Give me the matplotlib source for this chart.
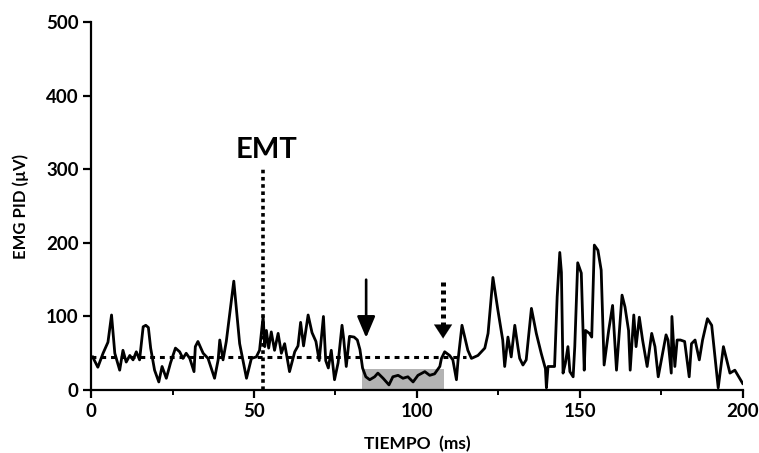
import matplotlib
matplotlib.use("Agg")
import matplotlib.pyplot as plt

plt.rcParams['font.family'] = ['Lato', 'DejaVu Sans']

# ---- data ----
t_ms = [0.5, 2.1, 3.7, 5.2, 6.3, 7.3, 8.8, 9.8, 10.8, 11.9, 12.9, 13.9, 14.9,
        16.0, 16.8, 17.6, 18.3, 19.5, 20.8, 21.8, 23.1, 24.4, 25.9, 27.2, 28.2,
        29.2, 30.3, 31.6, 32.0, 32.8, 34.4, 35.9, 37.9, 39.0, 39.5, 40.5, 41.5,
        43.8, 45.6, 47.7, 49.2, 50.7, 51.7, 52.8, 53.3, 53.8, 54.5, 55.3, 56.3,
        57.4, 58.4, 59.4, 60.9, 62.5, 63.5, 64.3, 65.2, 66.6, 67.8, 69.0, 70.0,
        71.3, 72.0, 72.8, 73.7, 74.7, 75.8, 77.0, 77.5, 78.3, 79.3, 80.7, 81.7,
        82.5, 83.3, 84.3, 85.5, 87.0, 88.0, 89.6, 91.4, 92.6, 94.2, 95.7, 97.2,
        98.8, 100.3, 102.4, 103.9, 105.4, 107.0, 107.5, 108.5, 110.0, 111.0,
        112.1, 112.6, 113.8, 115.6, 116.7, 118.7, 120.8, 121.8, 123.3, 124.8,
        126.3, 126.9, 127.9, 128.9, 130.0, 131.0, 131.5, 132.5, 133.5, 135.1,
        136.6, 138.1, 139.4, 139.7, 140.2, 142.2, 143.0, 143.8, 144.3, 144.8,
        145.5, 146.3, 146.9, 147.9, 148.4, 149.3, 150.4, 151.3, 151.7, 152.9,
        153.6, 154.4, 155.5, 156.5, 157.4, 158.8, 160.0, 161.2, 162.9, 163.8,
        164.9, 165.4, 166.5, 167.2, 168.2, 169.2, 170.6, 172.0, 173.0, 174.0,
        176.4, 177.0, 178.0, 178.2, 179.1, 179.8, 180.8, 182.1, 183.5, 184.2,
        185.3, 186.6, 187.6, 189.1, 190.4, 192.4, 194.0, 196.0, 197.5, 199.9]
emg_uv = [45, 31, 50, 65, 102, 50, 27, 54, 38, 47, 41, 52, 41,
          86, 88, 85, 57, 27, 11, 32, 16, 37, 57, 52, 43,
          50, 43, 25, 59, 66, 50, 43, 16, 41, 68, 41, 66,
          148, 63, 16, 43, 45, 54, 100, 59, 81, 57, 79, 54,
          77, 50, 63, 25, 52, 60, 92, 60, 102, 78, 66, 40,
          100, 40, 30, 54, 14, 37, 88, 70, 32, 73, 72, 68,
          55, 30, 18, 14, 18, 23, 16, 7, 18, 20, 16, 18,
          11, 20, 25, 20, 22, 32, 43, 52, 47, 41,
          14, 41, 88, 54, 43, 47, 57, 77, 153, 109,
          68, 32, 72, 45, 88, 57, 43, 34, 41, 111,
          77, 50, 29, 3, 32, 32, 127, 187, 160, 23,
          36, 59, 25, 18, 59, 173, 159, 27, 81, 77,
          72, 197, 190, 163, 34, 81, 115, 27, 129, 113,
          81, 27, 102, 59, 99, 68, 32, 77, 59, 18,
          75, 68, 23, 100, 32, 68, 68, 66, 18, 63,
          68, 41, 68, 97, 88, 3, 59, 23, 27, 9]

baseline_uv = 45
baseline_end_ms = 115
emt_ms = 52.8
emt_top_uv = 300
silent_start_ms, silent_end_ms, silent_top_uv = 83, 108.3, 28
arrow_solid = (84.4, 150, 71)     # x, from y, to y
arrow_dotted = (108.0, 147, 70)
x_ticks = [0, 50, 100, 150, 200]
y_ticks = [0, 100, 200, 300, 400, 500]

fig = plt.figure(figsize=(7.59, 4.53), dpi=100)
ax = fig.add_axes([0.1199, 0.139, 0.859, 0.812])

# silent period shading
ax.fill_between([silent_start_ms, silent_end_ms], 0, silent_top_uv,
                color='#b3b3b3', lw=0, zorder=1)

# baseline
ax.plot([0, baseline_end_ms], [baseline_uv, baseline_uv], color='black',
        lw=2.2, linestyle=(0, (1.6, 1.6)), zorder=2)

# EMT line
ax.plot([emt_ms, emt_ms], [0, emt_top_uv], color='black', lw=2.6,
        linestyle=(0, (1.0, 1.0)), zorder=2)
ax.text(emt_ms + 1, 308, 'EMT', ha='center', va='bottom', fontsize=21,
        fontweight='bold')

# trace
ax.plot(t_ms, emg_uv, color='black', lw=2.0, zorder=3,
        solid_joinstyle='round')

# solid arrow
ax.annotate('', xy=(arrow_solid[0], arrow_solid[2]),
            xytext=(arrow_solid[0], arrow_solid[1]),
            arrowprops=dict(arrowstyle='-|>,head_length=1.3,head_width=0.55',
                            lw=1.9, color='black', shrinkA=0, shrinkB=0))
# dotted arrow: dotted shaft + head
ax.plot([arrow_dotted[0], arrow_dotted[0]], [arrow_dotted[1], arrow_dotted[2] + 16],
        color='black', lw=3.6, linestyle=(0, (0.8, 0.8)))
ax.annotate('', xy=(arrow_dotted[0], arrow_dotted[2]),
            xytext=(arrow_dotted[0], arrow_dotted[2] + 20),
            arrowprops=dict(arrowstyle='-|>,head_length=1.0,head_width=0.65',
                            lw=0.1, color='black', shrinkA=0, shrinkB=0))

ax.set_xlim(0, 200)
ax.set_ylim(0, 500)
ax.set_xticks(x_ticks)
ax.set_xticks([25, 75, 125, 175], minor=True)
ax.set_yticks(y_ticks)
for s in ['top', 'right']:
    ax.spines[s].set_visible(False)
for s in ['left', 'bottom']:
    ax.spines[s].set_linewidth(1.6)
ax.tick_params(axis='both', which='major', length=6, width=1.6,
               labelsize=13.5, pad=3)
ax.tick_params(axis='x', which='minor', length=3.5, width=1.4)
for lab in ax.get_xticklabels() + ax.get_yticklabels():
    lab.set_fontweight('bold')

ax.set_xlabel('TIEMPO  (ms)', fontsize=12.5, fontweight='bold', labelpad=12)
ax.set_ylabel('EMG PID (µV)', fontsize=12, fontweight='bold', labelpad=12)

fig.savefig('out.png', dpi=100)
